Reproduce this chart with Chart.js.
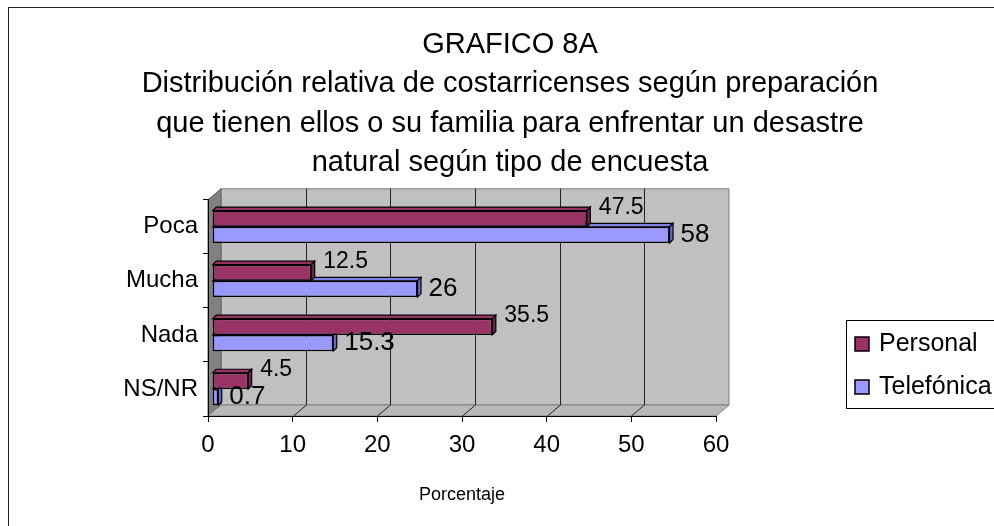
<!DOCTYPE html>
<html lang="es">
<head>
<meta charset="utf-8">
<title>GRAFICO 8A</title>
<script src="https://cdn.jsdelivr.net/npm/chart.js@4/dist/chart.umd.min.js"></script>
<style>
  html, body { margin: 0; padding: 0; background: #fff; overflow: hidden; }
  #frame { position: absolute; left: 8px; top: 7px; width: 1200px; height: 800px;
           border-top: 1px solid #222; border-left: 1px solid #222; }
  #chart { position: absolute; left: 0; top: 0; }
</style>
</head>
<body>
<div id="frame"></div>
<canvas id="chart" width="994" height="526"></canvas>
<script>
// ── Data ─────────────────────────────────────────────────────────
const categories  = ["Poca", "Mucha", "Nada", "NS/NR"];
const personal    = [47.5, 12.5, 35.5, 4.5];
const telefonica  = [58, 26, 15.3, 0.7];
const seriesNames = ["Personal", "Telefónica"];
const xTicks      = [0, 10, 20, 30, 40, 50, 60];
const titleLines  = [
    "GRAFICO 8A",
    "Distribución relativa de costarricenses según preparación",
    "que tienen ellos o su familia para enfrentar un desastre",
    "natural según tipo de encuesta"
];
const axisTitle = "Porcentaje";

// ── Styles ───────────────────────────────────────────────────────
const FONT   = "'Liberation Sans', Arial, sans-serif";
const fills  = ["#993366", "#9999ff"];
const tops   = ["#993366", "#8080e6"];
const sides  = ["#6b2447", "#6666cc"];
const DEPTH  = { dx: 13, dy: -11 };   // depth of the 3D walls
const BAR_D  = 3.5;                   // depth of the 3D bars

Chart.defaults.font.family = FONT;
Chart.defaults.color = "#000";

function poly(ctx, pts, fill, stroke) {
    ctx.beginPath();
    pts.forEach(([x, y], i) => i ? ctx.lineTo(x, y) : ctx.moveTo(x, y));
    ctx.closePath();
    if (fill)   { ctx.fillStyle = fill; ctx.fill(); }
    if (stroke) { ctx.strokeStyle = stroke; ctx.stroke(); }
}

// ── Plugins ──────────────────────────────────────────────────────
const wallsPlugin = {
    id: "walls",
    beforeDraw(chart) {
        const { ctx, chartArea: a, scales } = chart;
        const { dx, dy } = DEPTH;
        ctx.save();
        ctx.lineWidth = 1;
        // back wall
        poly(ctx, [[a.left + dx, a.top + dy], [a.right + dx, a.top + dy],
                   [a.right + dx, a.bottom + dy], [a.left + dx, a.bottom + dy]], "#c0c0c0", "#808080");
        // side wall
        poly(ctx, [[a.left, a.top], [a.left + dx, a.top + dy],
                   [a.left + dx, a.bottom + dy], [a.left, a.bottom]], "#808080", "#606060");
        // floor
        poly(ctx, [[a.left, a.bottom], [a.right, a.bottom],
                   [a.right + dx, a.bottom + dy], [a.left + dx, a.bottom + dy]], "#b8b8b8", "#808080");
        // gridlines on the back wall and floor
        ctx.strokeStyle = "#222";
        scales.x.ticks.forEach(t => {
            if (t.value === 0 || t.value === 60) return;
            const px = Math.round(scales.x.getPixelForValue(t.value)) + 0.5;
            ctx.beginPath();
            ctx.moveTo(px + dx, a.top + dy);
            ctx.lineTo(px + dx, a.bottom + dy);
            ctx.moveTo(px, a.bottom);
            ctx.lineTo(px + dx, a.bottom + dy);
            ctx.stroke();
        });
        ctx.restore();
    }
};

const barDepthPlugin = {
    id: "barDepth",
    afterDatasetDraw(chart, args) {
        const ctx = chart.ctx;
        const i = args.index;
        ctx.save();
        ctx.lineWidth = 1.2;
        args.meta.data.forEach(bar => {
            const { x, y, base, height } = bar.getProps(["x", "y", "base", "height"], true);
            const top = y - height / 2, bottom = y + height / 2;
            poly(ctx, [[base, top], [base + BAR_D, top - BAR_D], [x + BAR_D, top - BAR_D], [x, top]], tops[i], "#000");
            poly(ctx, [[x, top], [x + BAR_D, top - BAR_D], [x + BAR_D, bottom - BAR_D], [x, bottom]], sides[i], "#000");
        });
        ctx.restore();
    }
};

const labelsPlugin = {
    id: "valueLabels",
    afterDatasetsDraw(chart) {
        const ctx = chart.ctx;
        ctx.save();
        ctx.fillStyle = "#000";
        ctx.textAlign = "left";
        ctx.textBaseline = "middle";
        chart.data.datasets.forEach((ds, i) => {
            chart.getDatasetMeta(i).data.forEach((bar, j) => {
                const { x, y, height } = bar.getProps(["x", "y", "height"], true);
                if (i === 0) {
                    ctx.font = "23px " + FONT;
                    ctx.fillText(String(ds.data[j]), x + 12, y - height / 2 - 3);
                } else {
                    ctx.font = "26px " + FONT;
                    ctx.fillText(String(ds.data[j]), x + 11, y);
                }
            });
        });
        ctx.restore();
    }
};

const legendPlugin = {
    id: "boxLegend",
    afterDraw(chart) {
        const ctx = chart.ctx;
        ctx.save();
        ctx.lineWidth = 1;
        ctx.strokeStyle = "#000";
        ctx.strokeRect(846.5, 320.5, 200, 88);
        ctx.font = "25px " + FONT;
        ctx.textBaseline = "middle";
        chart.data.datasets.forEach((ds, i) => {
            const y = 337 + i * 43;
            ctx.lineWidth = 1.5;
            ctx.fillStyle = ds.backgroundColor;
            ctx.fillRect(855, y, 14, 14);
            ctx.strokeRect(855, y, 14, 14);
            ctx.fillStyle = "#000";
            ctx.fillText(ds.label, 879, y + 7);
        });
        ctx.restore();
    }
};

// ── Chart ────────────────────────────────────────────────────────
new Chart(document.getElementById("chart"), {
    type: "bar",
    data: {
        labels: categories,
        datasets: [
            { label: seriesNames[0], data: personal,   backgroundColor: fills[0] },
            { label: seriesNames[1], data: telefonica, backgroundColor: fills[1] }
        ].map(d => Object.assign(d, {
            xAxisID: "xb", yAxisID: "y",
            borderColor: "#000", borderWidth: 1.5, borderSkipped: false,
            categoryPercentage: 0.6, barPercentage: 1.0
        }))
    },
    options: {
        indexAxis: "y",
        responsive: false,
        animation: false,
        events: [],
        layout: { padding: { left: 26, right: 0, top: 0, bottom: 0 } },
        plugins: {
            legend:  { display: false },
            tooltip: { enabled: false },
            title: {
                display: true,
                text: titleLines,
                color: "#000",
                font: { size: 29, weight: "normal", lineHeight: 1.36 },
                padding: { top: 25, bottom: 17 }
            }
        },
        scales: {
            x: {
                type: "linear", min: 0, max: 60, position: "bottom",
                afterBuildTicks: s => { s.ticks = xTicks.map(v => ({ value: v })); },
                ticks: { font: { size: 24 }, color: "#000", padding: 9 },
                grid:  { drawOnChartArea: false, tickLength: 6, color: "#000" },
                border: { color: "#000" },
                title: {
                    display: true, text: axisTitle, color: "#000",
                    font: { size: 18 }, padding: { top: 0, bottom: 20 }
                },
                afterFit: s => { s.height = 110; }
            },
            xb: { type: "linear", display: false, min: -0.6, max: 63.9 },
            y: {
                type: "category", offset: true,
                grid:  { offset: true, drawOnChartArea: false, tickLength: 5, color: "#000" },
                border: { color: "#000" },
                ticks: { font: { size: 24 }, color: "#000", padding: 5 },
                afterFit: s => { s.width = 182; }
            },
            yR: {
                type: "linear", position: "right", display: true,
                grid: { display: false }, border: { display: false }, ticks: { display: false },
                afterFit: s => { s.width = 278; }
            }
        }
    },
    plugins: [wallsPlugin, barDepthPlugin, labelsPlugin, legendPlugin]
});
</script>
</body>
</html>
